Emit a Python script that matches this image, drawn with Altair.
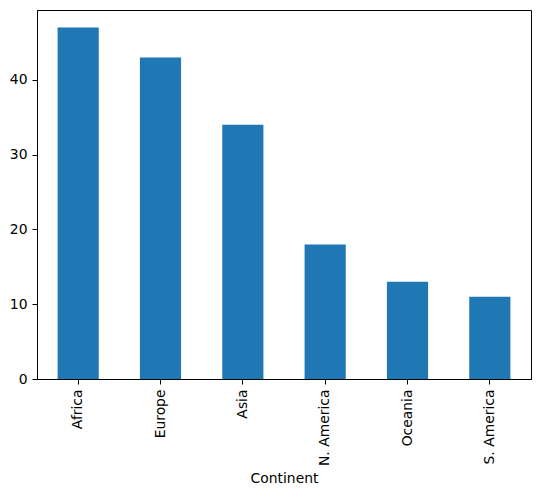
import altair as alt
import pandas as pd

continents = ["Africa", "Europe", "Asia", "N. America", "Oceania", "S. America"]
counts = [47, 43, 34, 18, 13, 11]

df = pd.DataFrame({"Continent": continents, "count": counts})

FONT = "DejaVu Sans"
FS = 13.9

chart = alt.Chart(df).mark_bar(color="#1f77b4").encode(
    x=alt.X(
        "Continent:N",
        sort=continents,
        scale=alt.Scale(paddingInner=0.5, paddingOuter=0.25),
        axis=alt.Axis(
            title="Continent",
            labelAngle=270,
            labelAlign="right",
            labelBaseline="middle",
            labelFontSize=FS,
            titleFontSize=FS,
            titleFontWeight="normal",
            labelColor="black",
            titleColor="black",
            tickColor="black",
            domainColor="black",
            tickSize=5,
            labelPadding=5,
            titlePadding=6,
            labelFont=FONT,
            titleFont=FONT,
        ),
    ),
    y=alt.Y(
        "count:Q",
        scale=alt.Scale(domain=[0, 49.35], nice=False, zero=True),
        axis=alt.Axis(
            title=None,
            values=[0, 10, 20, 30, 40],
            grid=False,
            labelFontSize=FS,
            labelColor="black",
            tickColor="black",
            domainColor="black",
            tickSize=5,
            labelPadding=5,
            labelFont=FONT,
        ),
    ),
).properties(
    width=494,
    height=369,
    autosize=alt.AutoSizeParams(type="none"),
    padding={"left": 29, "top": 2, "right": 4, "bottom": 108},
).configure_view(
    stroke="black",
    strokeWidth=1,
).configure_axis(
    domainWidth=1,
    tickWidth=1,
)

chart.save("out.html", embed_options={"renderer": "svg", "actions": False})
